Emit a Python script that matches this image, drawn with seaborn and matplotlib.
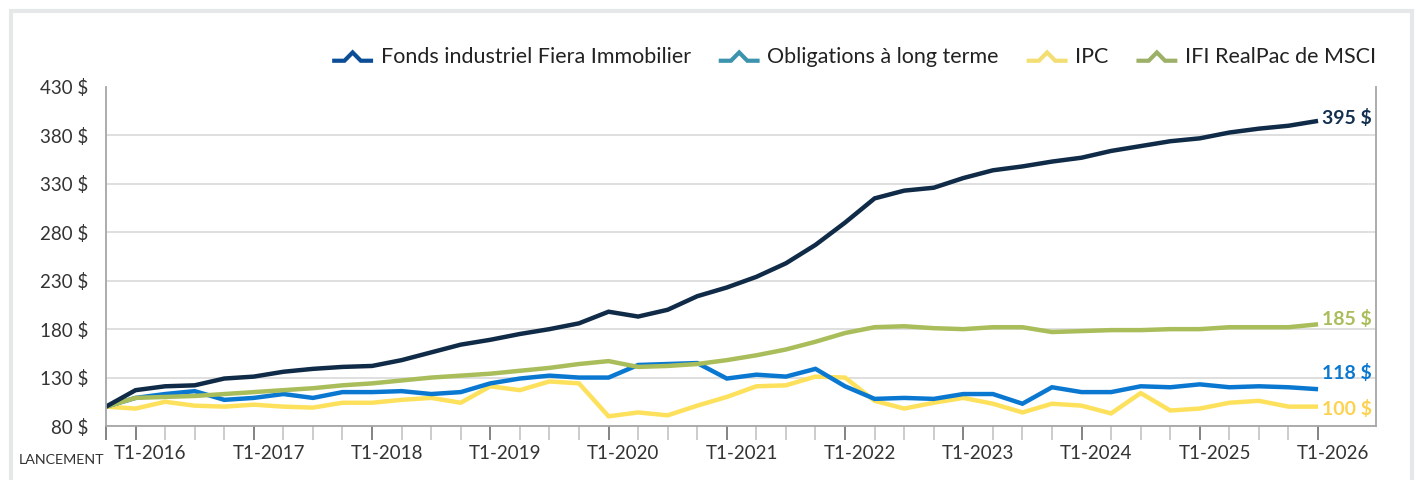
import numpy as np
import pandas as pd
import matplotlib
matplotlib.use("Agg")
import matplotlib.pyplot as plt
import seaborn as sns
from matplotlib.legend_handler import HandlerBase
from matplotlib.lines import Line2D
from matplotlib.transforms import ScaledTranslation
from matplotlib.patches import Rectangle

# ---------------- data ----------------
series_names = ["Fonds industriel Fiera Immobilier", "Obligations à long terme",
                "IPC", "IFI RealPac de MSCI"]

fonds = [100, 117, 121, 122, 129, 131, 136, 139, 141, 142, 148, 156, 164, 169,
         175, 180, 186, 198, 193, 200, 214, 223, 234, 248, 267, 290, 315, 323,
         326, 336, 344, 348, 353, 357, 364, 369, 374, 377, 383, 387, 390, 395]
obligations = [100, 109, 113, 116, 107, 109, 113, 109, 115, 115, 116, 113, 115, 124,
               129, 132, 130, 130, 143, 144, 145, 129, 133, 131, 139, 121, 108, 109,
               108, 113, 113, 103, 120, 115, 115, 121, 120, 123, 120, 121, 120, 118]
ipc = [100, 98, 105, 101, 100, 102, 100, 99, 104, 104, 107, 109, 104, 121,
       117, 126, 124, 90, 94, 91, 101, 110, 121, 122, 131, 130, 106, 98,
       104, 109, 103, 94, 103, 101, 93, 114, 96, 98, 104, 106, 100, 100]
ifi = [100, 109, 110, 111, 113, 115, 117, 119, 122, 124, 127, 130, 132, 134,
       137, 140, 144, 147, 141, 142, 144, 148, 153, 159, 167, 176, 182, 183,
       181, 180, 182, 182, 177, 178, 179, 179, 180, 180, 182, 182, 182, 185]

quarters = list(range(len(fonds)))  # 0 = lancement (T4-2015), 1 = T1-2016 ...
year_tick_labels = ["T1-2016", "T1-2017", "T1-2018", "T1-2019", "T1-2020",
                    "T1-2021", "T1-2022", "T1-2023", "T1-2024", "T1-2025", "T1-2026"]
launch_label = "LANCEMENT"
y_tick_values = [80, 130, 180, 230, 280, 330, 380, 430]
end_labels = ["395 $", "118 $", "100 $", "185 $"]

# ---------------- styles ----------------
line_colors = {"Fonds industriel Fiera Immobilier": "#0f2b47",
               "Obligations à long terme": "#0a78d0",
               "IPC": "#fde15c",
               "IFI RealPac de MSCI": "#a9bd5a"}
legend_colors = ["#0b4d96", "#3b93ad", "#f3de74", "#9cb068"]
label_colors = ["#14304f", "#0a78d0", "#fdd24e", "#a9bd5a"]
label_dy = [2, 11.5, -1.5, 3.5]
draw_order = ["IPC", "Obligations à long terme", "IFI RealPac de MSCI",
              "Fonds industriel Fiera Immobilier"]

df = pd.DataFrame({"q": quarters,
                   series_names[0]: fonds,
                   series_names[1]: obligations,
                   series_names[2]: ipc,
                   series_names[3]: ifi})
long = df.melt(id_vars="q", var_name="serie", value_name="val")

sns.set_theme(style="white")
plt.rcParams["font.family"] = ["Lato", "DejaVu Sans"]

fig = plt.figure(figsize=(14.2, 4.8), dpi=100)
ax = fig.add_axes([106 / 1420, 1 - 426 / 480, (1376 - 106) / 1420, (426 - 87) / 480])

sns.lineplot(data=long, x="q", y="val", hue="serie", hue_order=draw_order,
             palette=line_colors, linewidth=3.2, ax=ax, legend=False, sort=False)
for ln in ax.lines:
    ln.set_solid_joinstyle("miter")
    ln.set_solid_capstyle("butt")

ax.set_xlim(0, 42.96)
ax.set_ylim(80, 430)
ax.set_xlabel("")
ax.set_ylabel("")

# y axis
ax.set_yticks(y_tick_values)
ax.set_yticklabels([f"{v} $" for v in y_tick_values])
ax.tick_params(axis="y", length=0, pad=13, labelsize=13.5, labelcolor="#333333")
ax.grid(axis="y", color="#dcdcdc", linewidth=1.3)
ax.yaxis.get_gridlines()[-1].set_visible(False)
ax.set_axisbelow(True)

# x axis
major = [0] + [1 + 4 * k for k in range(len(year_tick_labels))]
minor = [q for q in quarters if q not in major]
ax.set_xticks(major)
ax.set_xticklabels([""] + year_tick_labels)
ax.set_xticks(minor, minor=True)
ax.tick_params(axis="x", which="major", direction="out", length=10, width=1.3,
               color="#7a7a7a", pad=4, labelsize=13.5, labelcolor="#333333", bottom=True)
ax.tick_params(axis="x", which="minor", direction="out", length=10, width=1.3,
               color="#c8c8c8", bottom=True)
offset = ScaledTranslation(14.8 / 100, 0, fig.dpi_scale_trans)
for lab in ax.get_xticklabels():
    lab.set_transform(lab.get_transform() + offset)

ax.annotate(launch_label, xy=(0, 0), xycoords=("data", "axes fraction"),
            xytext=(-1, -27.5), textcoords="offset points", ha="right", va="baseline",
            fontsize=10.3, color="#333333")

for side in ["left", "bottom", "right"]:
    ax.spines[side].set_color("#a6a6a6")
    ax.spines[side].set_linewidth(1.3)
ax.spines["top"].set_visible(False)

# end labels
ends = [fonds, obligations, ipc, ifi]
for vals, txt, col, dy in zip(ends, end_labels, label_colors, label_dy):
    ax.annotate(txt, xy=(quarters[-1], vals[-1]), xytext=(3, dy),
                textcoords="offset points", ha="left", va="center",
                fontsize=14, fontweight="bold", color=col)


# legend with chevron icons
class ChevronHandler(HandlerBase):
    def create_artists(self, legend, orig_handle, xdescent, ydescent, width,
                       height, fontsize, trans):
        xs = np.array([0.0, 0.3, 0.5, 0.7, 1.0]) * width - xdescent
        ys = np.array([0.15, 0.15, 0.7, 0.15, 0.15]) * height - ydescent
        l = Line2D(xs, ys, color=orig_handle.get_color(), linewidth=3,
                   solid_joinstyle="miter", solid_capstyle="butt")
        l.set_transform(trans)
        return [l]


handles = [Line2D([], [], color=c) for c in legend_colors]
fig.legend(handles, series_names, loc="center right",
           bbox_to_anchor=(1376 / 1420, 1 - 57 / 480), ncol=4, frameon=False,
           fontsize=15.5, handlelength=1.9, handletextpad=0.35, columnspacing=1.3,
           borderpad=0, borderaxespad=0, labelcolor="#222222",
           handler_map={Line2D: ChevronHandler()})

# outer frame
fig.add_artist(Rectangle((11 / 1420, -0.2), (1412 - 11) / 1420, 1.2 - 11 / 480,
                         transform=fig.transFigure, fill=False,
                         edgecolor="#e6e7e9", linewidth=3))

fig.savefig("out.png", dpi=100)
